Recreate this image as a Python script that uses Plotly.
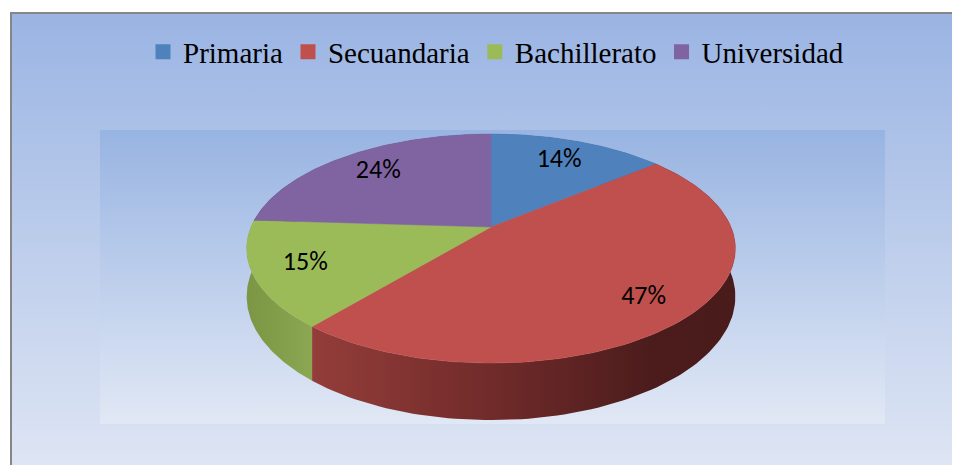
import numpy as np
import plotly.graph_objects as go

# ---- data ----
categories = ["Primaria", "Secuandaria", "Bachillerato", "Universidad"]
values = [14, 47, 15, 24]
slice_colors = ["#4f81bd", "#c0504d", "#9bbb59", "#8064a2"]
wall_scales = [
    [[0, "#2f4d72"], [1, "#3a5f8c"]],
    [[0, "#943d3a"], [0.45, "#6e2a29"], [0.8, "#4c1c1c"], [1, "#4a1b1b"]],
    [[0, "#7b9644"], [1, "#8ba752"]],
    [[0, "#4d3c61"], [1, "#5e4a78"]],
]

# page offset (html body margin) and figure size
OFF = 8
W, Hfig = 960 - 2 * OFF, 473 - 2 * OFF

# ---- 3D pie geometry (page-pixel axis coordinates) ----
CX, CY = 491.0, 227.0
RX, RY = 240.0, 110.5
K = 0.188      # perspective
H = 46.3       # thickness


def proj(theta_deg, r=1.0, z=0.0):
    t = np.radians(theta_deg)
    u = r * np.sin(t)
    v = r * np.cos(t)
    s = 1 + K * v
    return CX + RX * u / s, CY - RY * v / s + z / s


total = float(sum(values))
bounds = np.concatenate([[0], np.cumsum(values)]) / total * 360.0

fig = go.Figure()

# background of chart area and plot area (vertical gradients)
fig.add_trace(go.Scatter(
    x=[11, 980, 980, 11, 11], y=[13, 13, 490, 490, 13], mode="lines",
    line=dict(width=0), fill="toself",
    fillgradient=dict(type="vertical", start=13, stop=473,
                      colorscale=[[0, "#9ab4e3"], [1, "#dfe6f4"]]),
    hoverinfo="skip", showlegend=False))
fig.add_trace(go.Scatter(
    x=[100, 885, 885, 100, 100], y=[130, 130, 424, 424, 130], mode="lines",
    line=dict(width=0), fill="toself",
    fillgradient=dict(type="vertical", start=130, stop=424,
                      colorscale=[[0, "#98b4e2"], [1, "#e1e8f5"]]),
    hoverinfo="skip", showlegend=False))

# walls, far first
order = sorted(range(len(values)),
               key=lambda i: -np.cos(np.radians((bounds[i] + bounds[i + 1]) / 2)))
for i in order:
    ts = np.linspace(bounds[i], bounds[i + 1], 120)
    top = [proj(t) for t in ts]
    bot = [proj(t, z=H) for t in ts[::-1]]
    pts = top + bot + [top[0]]
    fig.add_trace(go.Scatter(
        x=[p[0] for p in pts], y=[p[1] for p in pts], mode="lines",
        line=dict(width=0), fill="toself",
        fillgradient=dict(type="horizontal", colorscale=wall_scales[i]),
        hoverinfo="skip", showlegend=False))

# top faces
for i in range(len(values)):
    ts = np.linspace(bounds[i], bounds[i + 1], 120)
    pts = [(CX, CY)] + [proj(t) for t in ts] + [(CX, CY)]
    fig.add_trace(go.Scatter(
        x=[p[0] for p in pts], y=[p[1] for p in pts], mode="lines",
        line=dict(width=0.5, color=slice_colors[i]), fill="toself",
        fillcolor=slice_colors[i], name=categories[i],
        hoverinfo="name", showlegend=False))

# percentage labels
lx, ly, lt = [], [], []
for i, v in enumerate(values):
    mid = (bounds[i] + bounds[i + 1]) / 2
    px, py = proj(mid)
    lx.append(CX + 0.78 * (px - CX))
    ly.append(CY + 0.78 * (py - CY))
    lt.append(f"{round(v / total * 100)}%")
fig.add_trace(go.Scatter(
    x=lx, y=ly, text=lt, mode="text", textposition="middle center",
    textfont=dict(family="Carlito, Lato, sans-serif", size=26, color="#000000"),
    hoverinfo="skip", showlegend=False))

# legend entries
for i, c in enumerate(categories):
    fig.add_trace(go.Scatter(
        x=[None], y=[None], mode="markers", name=c,
        marker=dict(symbol="square", size=15, color=slice_colors[i]),
        showlegend=True))

fig.update_layout(
    width=W, height=Hfig,
    margin=dict(l=0, r=0, t=0, b=0),
    paper_bgcolor="#ffffff", plot_bgcolor="rgba(0,0,0,0)",
    xaxis=dict(range=[OFF, OFF + W], visible=False, fixedrange=True),
    yaxis=dict(range=[OFF + Hfig, OFF], visible=False, fixedrange=True),
    showlegend=True,
    legend=dict(orientation="h", x=(496 - OFF) / W, xanchor="center",
                y=1 - (52 - OFF) / Hfig, yanchor="middle",
                bgcolor="rgba(0,0,0,0)",
                font=dict(family="Liberation Serif, Times New Roman, serif",
                          size=29, color="#000000")),
    shapes=[dict(type="line", xref="x", yref="y", x0=11, y0=12.5, x1=11, y1=480,
                 line=dict(color="#868686", width=2)),
            dict(type="line", xref="x", yref="y", x0=10, y0=13, x1=980, y1=13,
                 line=dict(color="#868686", width=2))],
)

fig.write_html("out.html")
